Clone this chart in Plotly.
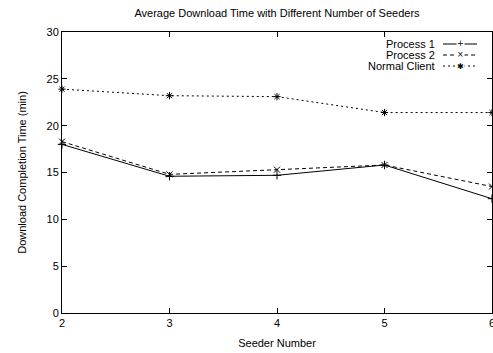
import plotly.graph_objects as go

seeders = [2, 3, 4, 5, 6]
process1 = [18.0, 14.6, 14.7, 15.8, 12.2]
process2 = [18.3, 14.8, 15.3, 15.8, 13.5]
normal_client = [23.9, 23.2, 23.1, 21.4, 21.4]

series_names = ["Process 1", "Process 2", "Normal Client"]
series_vals = [process1, process2, normal_client]
dashes = ["solid", "4px,3px", "2px,3px"]
symbols = ["cross-thin-open", "x-thin-open", "asterisk-open"]
legend_glyphs = ["+", "×", "✱"]

W, H = 493, 353
L, R, T, B = 62, 1, 32, 40
pw, ph = W - L - R, H - T - B

font = dict(family="Liberation Sans, Arial, sans-serif", size=11, color="black")

fig = go.Figure()
for name, vals, d, s in zip(series_names, series_vals, dashes, symbols):
    fig.add_trace(go.Scatter(
        x=seeders, y=vals, name=name, mode="lines+markers",
        line=dict(color="black", width=1, dash=d),
        marker=dict(symbol=s, size=6, color="black", line=dict(width=1, color="black")),
        cliponaxis=False, showlegend=False,
    ))

# gnuplot-style legend: text right-aligned, sample on the right
shapes = []
annotations = []
for i, (name, d, g) in enumerate(zip(series_names, dashes, legend_glyphs)):
    py = 44 + i * 11
    yp = (T + ph - py) / ph
    x0 = (443 - L) / pw
    x1 = (477 - L) / pw
    shapes.append(dict(type="line", xref="paper", yref="paper", x0=x0, x1=x1, y0=yp, y1=yp,
                       line=dict(color="black", width=1, dash=d)))
    annotations.append(dict(xref="paper", yref="paper", x=(437 - L) / pw, y=yp, text=name,
                            showarrow=False, xanchor="right", yanchor="middle", font=font))
    annotations.append(dict(xref="paper", yref="paper", x=(460 - L) / pw, y=yp, text=g,
                            showarrow=False, xanchor="center", yanchor="middle", bgcolor="white",
                            borderpad=0,
                            font=dict(family="DejaVu Sans", size=8, color="black")))

fig.update_layout(
    width=W, height=H,
    margin=dict(l=L, r=R, t=T, b=B, autoexpand=False),
    paper_bgcolor="white", plot_bgcolor="white",
    font=font,
    title=dict(text="Average Download Time with Different Number of Seeders",
               x=0.5, xref="paper", xanchor="center", y=1 - 13 / H, yanchor="middle",
               automargin=False,
               font=dict(family="Liberation Sans, Arial, sans-serif", size=11, color="black")),
    shapes=shapes, annotations=annotations,
    xaxis=dict(range=[2, 6], tickvals=seeders, ticktext=[str(v) for v in seeders],
               showgrid=False, zeroline=False, showline=True, linecolor="black", linewidth=1,
               mirror="ticks", ticks="inside", ticklen=5, tickcolor="black", automargin=False,
               ticklabeloverflow="allow",
               title=dict(text="Seeder Number", standoff=11, font=font), tickfont=font),
    yaxis=dict(range=[0, 30], dtick=5, showgrid=False, zeroline=False, showline=True,
               linecolor="black", linewidth=1, mirror="ticks", ticks="inside", ticklen=5,
               tickcolor="black", automargin=False, ticklabeloverflow="allow",
               title=dict(text="Download Completion Time (min)", standoff=17, font=font),
               tickfont=font),
)

fig.write_html("out.html", config={"displayModeBar": False},
               post_script="document.body.style.margin='0';document.body.style.overflow='hidden';")
